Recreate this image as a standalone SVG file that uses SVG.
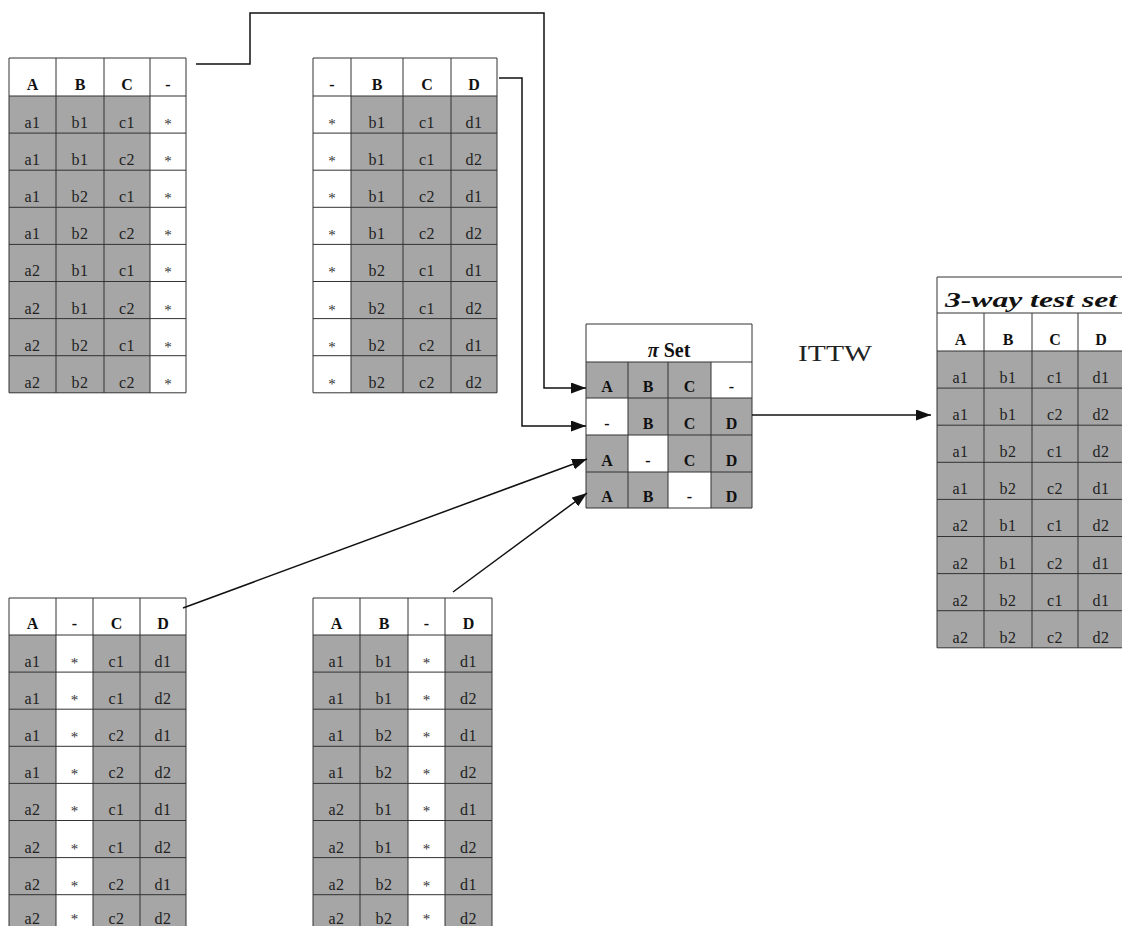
<svg xmlns="http://www.w3.org/2000/svg" width="1122" height="926" viewBox="0 0 1122 926">
<style>
.bg{fill:#fff}
.gr{fill:#a6a6a6}
.grid{fill:none;stroke:#333;stroke-width:1}
.t{font-family:"Liberation Serif","Times New Roman",serif;font-size:16px;fill:#222;text-anchor:middle;letter-spacing:0.5px}
.h{font-family:"Liberation Serif","Times New Roman",serif;font-size:16px;font-weight:bold;fill:#111;text-anchor:middle}
.s{font-family:"Liberation Serif","Times New Roman",serif;font-size:15px;fill:#333;text-anchor:middle}
.conn{fill:none;stroke:#111;stroke-width:1.5}
</style>
<defs>
<marker id="arr" markerUnits="userSpaceOnUse" markerWidth="15" markerHeight="11" refX="15" refY="5.5" orient="auto">
<path d="M0,0 L15,5.5 L0,11 z" fill="#111"/>
</marker>
</defs>

<g id="table-abc">
<rect class="bg" x="9" y="58" width="177" height="334.8"/>
<rect class="gr" x="9" y="96" width="141" height="296.8"/>
<path class="grid" d="M9,58H186V392.8H9Z M56,58V392.8 M104,58V392.8 M150,58V392.8 M9,96H186 M9,133.1H186 M9,170.2H186 M9,207.3H186 M9,244.4H186 M9,281.5H186 M9,318.6H186 M9,355.7H186"/>
<text class="h" x="32.5" y="90">A</text><text class="h" x="80" y="90">B</text><text class="h" x="127" y="90">C</text><text class="h" x="168" y="90">-</text>
<text class="t" x="32.5" y="128">a1</text><text class="t" x="80" y="128">b1</text><text class="t" x="127" y="128">c1</text><text class="s" x="168" y="129">*</text>
<text class="t" x="32.5" y="165">a1</text><text class="t" x="80" y="165">b1</text><text class="t" x="127" y="165">c2</text><text class="s" x="168" y="166">*</text>
<text class="t" x="32.5" y="202">a1</text><text class="t" x="80" y="202">b2</text><text class="t" x="127" y="202">c1</text><text class="s" x="168" y="203">*</text>
<text class="t" x="32.5" y="239">a1</text><text class="t" x="80" y="239">b2</text><text class="t" x="127" y="239">c2</text><text class="s" x="168" y="240">*</text>
<text class="t" x="32.5" y="276">a2</text><text class="t" x="80" y="276">b1</text><text class="t" x="127" y="276">c1</text><text class="s" x="168" y="277">*</text>
<text class="t" x="32.5" y="313.5">a2</text><text class="t" x="80" y="313.5">b1</text><text class="t" x="127" y="313.5">c2</text><text class="s" x="168" y="314.5">*</text>
<text class="t" x="32.5" y="350.5">a2</text><text class="t" x="80" y="350.5">b2</text><text class="t" x="127" y="350.5">c1</text><text class="s" x="168" y="351.5">*</text>
<text class="t" x="32.5" y="387.5">a2</text><text class="t" x="80" y="387.5">b2</text><text class="t" x="127" y="387.5">c2</text><text class="s" x="168" y="388.5">*</text>
</g>

<g id="table-bcd">
<rect class="bg" x="313" y="58" width="184" height="334.8"/>
<rect class="gr" x="351" y="96" width="146" height="296.8"/>
<path class="grid" d="M313,58H497V392.8H313Z M351,58V392.8 M403,58V392.8 M451,58V392.8 M313,96H497 M313,133.1H497 M313,170.2H497 M313,207.3H497 M313,244.4H497 M313,281.5H497 M313,318.6H497 M313,355.7H497"/>
<text class="h" x="332" y="90">-</text><text class="h" x="377" y="90">B</text><text class="h" x="427" y="90">C</text><text class="h" x="474" y="90">D</text>
<text class="s" x="332" y="129">*</text><text class="t" x="377" y="128">b1</text><text class="t" x="427" y="128">c1</text><text class="t" x="474" y="128">d1</text>
<text class="s" x="332" y="166">*</text><text class="t" x="377" y="165">b1</text><text class="t" x="427" y="165">c1</text><text class="t" x="474" y="165">d2</text>
<text class="s" x="332" y="203">*</text><text class="t" x="377" y="202">b1</text><text class="t" x="427" y="202">c2</text><text class="t" x="474" y="202">d1</text>
<text class="s" x="332" y="240">*</text><text class="t" x="377" y="239">b1</text><text class="t" x="427" y="239">c2</text><text class="t" x="474" y="239">d2</text>
<text class="s" x="332" y="277">*</text><text class="t" x="377" y="276">b2</text><text class="t" x="427" y="276">c1</text><text class="t" x="474" y="276">d1</text>
<text class="s" x="332" y="314.5">*</text><text class="t" x="377" y="313.5">b2</text><text class="t" x="427" y="313.5">c1</text><text class="t" x="474" y="313.5">d2</text>
<text class="s" x="332" y="351.5">*</text><text class="t" x="377" y="350.5">b2</text><text class="t" x="427" y="350.5">c2</text><text class="t" x="474" y="350.5">d1</text>
<text class="s" x="332" y="388.5">*</text><text class="t" x="377" y="387.5">b2</text><text class="t" x="427" y="387.5">c2</text><text class="t" x="474" y="387.5">d2</text>
</g>

<g id="table-acd">
<rect class="bg" x="9" y="598" width="177" height="333.8"/>
<rect class="gr" x="9" y="635" width="47" height="296.8"/>
<rect class="gr" x="93" y="635" width="93" height="296.8"/>
<path class="grid" d="M9,931.8V598H186V931.8 M56,598V931.8 M93,598V931.8 M140,598V931.8 M9,635H186 M9,672.1H186 M9,709.2H186 M9,746.3H186 M9,783.4H186 M9,820.5H186 M9,857.6H186 M9,894.7H186"/>
<text class="h" x="32.5" y="629">A</text><text class="h" x="74.5" y="629">-</text><text class="h" x="116.5" y="629">C</text><text class="h" x="163" y="629">D</text>
<text class="t" x="32.5" y="667">a1</text><text class="s" x="74.5" y="668">*</text><text class="t" x="116.5" y="667">c1</text><text class="t" x="163" y="667">d1</text>
<text class="t" x="32.5" y="704">a1</text><text class="s" x="74.5" y="705">*</text><text class="t" x="116.5" y="704">c1</text><text class="t" x="163" y="704">d2</text>
<text class="t" x="32.5" y="741">a1</text><text class="s" x="74.5" y="742">*</text><text class="t" x="116.5" y="741">c2</text><text class="t" x="163" y="741">d1</text>
<text class="t" x="32.5" y="778">a1</text><text class="s" x="74.5" y="779">*</text><text class="t" x="116.5" y="778">c2</text><text class="t" x="163" y="778">d2</text>
<text class="t" x="32.5" y="815">a2</text><text class="s" x="74.5" y="816">*</text><text class="t" x="116.5" y="815">c1</text><text class="t" x="163" y="815">d1</text>
<text class="t" x="32.5" y="852.5">a2</text><text class="s" x="74.5" y="853.5">*</text><text class="t" x="116.5" y="852.5">c1</text><text class="t" x="163" y="852.5">d2</text>
<text class="t" x="32.5" y="889.5">a2</text><text class="s" x="74.5" y="890.5">*</text><text class="t" x="116.5" y="889.5">c2</text><text class="t" x="163" y="889.5">d1</text>
<text class="t" x="32.5" y="923.5">a2</text><text class="s" x="74.5" y="923.5">*</text><text class="t" x="116.5" y="923.5">c2</text><text class="t" x="163" y="923.5">d2</text>
</g>

<g id="table-abd">
<rect class="bg" x="313" y="598" width="179" height="333.8"/>
<rect class="gr" x="313" y="635" width="95" height="296.8"/>
<rect class="gr" x="445" y="635" width="47" height="296.8"/>
<path class="grid" d="M313,931.8V598H492V931.8 M360,598V931.8 M408,598V931.8 M445,598V931.8 M313,635H492 M313,672.1H492 M313,709.2H492 M313,746.3H492 M313,783.4H492 M313,820.5H492 M313,857.6H492 M313,894.7H492"/>
<text class="h" x="336.5" y="629">A</text><text class="h" x="384" y="629">B</text><text class="h" x="426.5" y="629">-</text><text class="h" x="468.5" y="629">D</text>
<text class="t" x="336.5" y="667">a1</text><text class="t" x="384" y="667">b1</text><text class="s" x="426.5" y="668">*</text><text class="t" x="468.5" y="667">d1</text>
<text class="t" x="336.5" y="704">a1</text><text class="t" x="384" y="704">b1</text><text class="s" x="426.5" y="705">*</text><text class="t" x="468.5" y="704">d2</text>
<text class="t" x="336.5" y="741">a1</text><text class="t" x="384" y="741">b2</text><text class="s" x="426.5" y="742">*</text><text class="t" x="468.5" y="741">d1</text>
<text class="t" x="336.5" y="778">a1</text><text class="t" x="384" y="778">b2</text><text class="s" x="426.5" y="779">*</text><text class="t" x="468.5" y="778">d2</text>
<text class="t" x="336.5" y="815">a2</text><text class="t" x="384" y="815">b1</text><text class="s" x="426.5" y="816">*</text><text class="t" x="468.5" y="815">d1</text>
<text class="t" x="336.5" y="852.5">a2</text><text class="t" x="384" y="852.5">b1</text><text class="s" x="426.5" y="853.5">*</text><text class="t" x="468.5" y="852.5">d2</text>
<text class="t" x="336.5" y="889.5">a2</text><text class="t" x="384" y="889.5">b2</text><text class="s" x="426.5" y="890.5">*</text><text class="t" x="468.5" y="889.5">d1</text>
<text class="t" x="336.5" y="923.5">a2</text><text class="t" x="384" y="923.5">b2</text><text class="s" x="426.5" y="923.5">*</text><text class="t" x="468.5" y="923.5">d2</text>
</g>

<g id="pi-set">
<rect class="bg" x="586" y="324" width="166" height="184"/>
<rect class="gr" x="586" y="362" width="125" height="36"/>
<rect class="gr" x="628" y="398" width="124" height="37"/>
<rect class="gr" x="586" y="435" width="42" height="37"/>
<rect class="gr" x="668" y="435" width="84" height="37"/>
<rect class="gr" x="586" y="472" width="82" height="36"/>
<rect class="gr" x="711" y="472" width="41" height="36"/>
<path class="grid" d="M586,324H752V508H586Z M586,362H752 M586,398H752 M586,435H752 M586,472H752 M628,362V508 M668,362V508 M711,362V508"/>
<text class="h" x="669" y="357" style="font-size:20px"><tspan font-style="italic">π</tspan> Set</text>
<text class="h" x="607" y="392">A</text><text class="h" x="648" y="392">B</text><text class="h" x="689.5" y="392">C</text><text class="h" x="731.5" y="392">-</text>
<text class="h" x="607" y="429">-</text><text class="h" x="648" y="429">B</text><text class="h" x="689.5" y="429">C</text><text class="h" x="731.5" y="429">D</text>
<text class="h" x="607" y="466">A</text><text class="h" x="648" y="466">-</text><text class="h" x="689.5" y="466">C</text><text class="h" x="731.5" y="466">D</text>
<text class="h" x="607" y="502">A</text><text class="h" x="648" y="502">B</text><text class="h" x="689.5" y="502">-</text><text class="h" x="731.5" y="502">D</text>
</g>

<g id="ittw-label">
<text x="798" y="361" textLength="74" lengthAdjust="spacingAndGlyphs" style="font-family:'Liberation Serif','Times New Roman',serif;font-size:23px;fill:#222">ITTW</text>
</g>

<g id="test-set">
<rect class="bg" x="937" y="277" width="187" height="370.8"/>
<rect class="gr" x="937" y="351" width="187" height="296.8"/>
<path class="grid" d="M1124,277H937V647.8H1124 M937,313H1124 M937,351H1124 M984,313V647.8 M1032,313V647.8 M1078,313V647.8 M937,388.1H1124 M937,425.2H1124 M937,462.3H1124 M937,499.4H1124 M937,536.5H1124 M937,573.6H1124 M937,610.7H1124"/>
<text x="945" y="307" textLength="172" lengthAdjust="spacingAndGlyphs" style="font-family:'Liberation Serif','Times New Roman',serif;font-size:20px;font-style:italic;font-weight:bold;fill:#111">3-way test set</text>
<text class="h" x="960.5" y="345">A</text><text class="h" x="1008" y="345">B</text><text class="h" x="1055" y="345">C</text><text class="h" x="1101" y="345">D</text>
<text class="t" x="960.5" y="383">a1</text><text class="t" x="1008" y="383">b1</text><text class="t" x="1055" y="383">c1</text><text class="t" x="1101" y="383">d1</text>
<text class="t" x="960.5" y="420">a1</text><text class="t" x="1008" y="420">b1</text><text class="t" x="1055" y="420">c2</text><text class="t" x="1101" y="420">d2</text>
<text class="t" x="960.5" y="457">a1</text><text class="t" x="1008" y="457">b2</text><text class="t" x="1055" y="457">c1</text><text class="t" x="1101" y="457">d2</text>
<text class="t" x="960.5" y="494">a1</text><text class="t" x="1008" y="494">b2</text><text class="t" x="1055" y="494">c2</text><text class="t" x="1101" y="494">d1</text>
<text class="t" x="960.5" y="531">a2</text><text class="t" x="1008" y="531">b1</text><text class="t" x="1055" y="531">c1</text><text class="t" x="1101" y="531">d2</text>
<text class="t" x="960.5" y="568.5">a2</text><text class="t" x="1008" y="568.5">b1</text><text class="t" x="1055" y="568.5">c2</text><text class="t" x="1101" y="568.5">d1</text>
<text class="t" x="960.5" y="605.5">a2</text><text class="t" x="1008" y="605.5">b2</text><text class="t" x="1055" y="605.5">c1</text><text class="t" x="1101" y="605.5">d1</text>
<text class="t" x="960.5" y="642.5">a2</text><text class="t" x="1008" y="642.5">b2</text><text class="t" x="1055" y="642.5">c2</text><text class="t" x="1101" y="642.5">d2</text>
</g>

<g id="connectors">
<path class="conn" d="M196,64H250V13H544V388H586" marker-end="url(#arr)"/>
<path class="conn" d="M499,78H522V426H586" marker-end="url(#arr)"/>
<path class="conn" d="M183,608L587,459" marker-end="url(#arr)"/>
<path class="conn" d="M453,592L587,493" marker-end="url(#arr)"/>
<path class="conn" d="M752,415H931" marker-end="url(#arr)"/>
</g>
</svg>
